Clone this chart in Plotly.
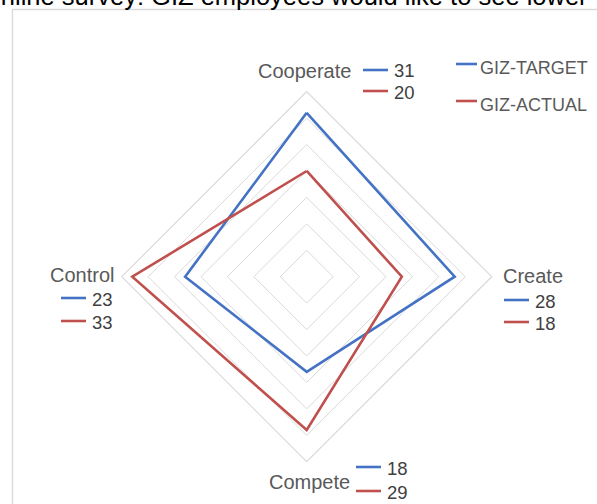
import plotly.graph_objects as go

# ---- data ----
categories = ["Cooperate", "Create", "Compete", "Control"]
target = [31, 28, 18, 23]
actual = [20, 18, 29, 33]
series_names = ["GIZ-TARGET", "GIZ-ACTUAL"]
title_text = "Online survey: GIZ employees would like to see lower"

# ---- styles / layout constants ----
W, H = 597, 504
BLUE = "#4472C4"
RED = "#C0504D"
GRID = "#D9D9D9"
FONT = "Liberation Sans"


def px(x):
    return x / W


def py(y):
    return 1 - y / H


# polar centre & radius in pixels
CX, CY, R = 306.7, 276.7, 185.0

fig = go.Figure()
for vals, name, col in [(target, series_names[0], BLUE), (actual, series_names[1], RED)]:
    fig.add_trace(go.Scatterpolar(
        r=vals + [vals[0]],
        theta=categories + [categories[0]],
        mode="lines",
        name=name,
        line=dict(color=col, width=2.6),
        showlegend=False,
    ))

fig.update_layout(
    width=W, height=H,
    margin=dict(l=0, r=0, t=0, b=0),
    paper_bgcolor="white",
    plot_bgcolor="white",
    font=dict(family=FONT),
    polar=dict(
        domain=dict(x=[px(CX - R), px(CX + R)], y=[py(CY + R), py(CY - R)]),
        bgcolor="white",
        gridshape="linear",
        radialaxis=dict(range=[0, 35], dtick=5, showticklabels=False, ticks="",
                        showline=False, gridcolor=GRID, gridwidth=1.2),
        angularaxis=dict(rotation=90, direction="clockwise", showticklabels=False,
                         ticks="", showgrid=False, showline=True,
                         linecolor=GRID, linewidth=1.2),
    ),
)

shapes = []
annotations = []

# chart border (partially visible)
shapes.append(dict(type="line", xref="paper", yref="paper",
                   x0=px(12.5), x1=px(12.5), y0=py(504), y1=py(9.5),
                   line=dict(color=GRID, width=1.3)))
shapes.append(dict(type="line", xref="paper", yref="paper",
                   x0=px(12.5), x1=px(597), y0=py(9.5), y1=py(9.5),
                   line=dict(color=GRID, width=1.3)))

# title (cut off at top, as in the source image)
annotations.append(dict(text=title_text, xref="paper", yref="paper",
                        x=px(-21), y=py(-4), xanchor="left", yanchor="middle",
                        showarrow=False, font=dict(size=25.5, color="black", family=FONT)))

# category labels with per-series value keys
label_pos = {
    "Cooperate": (353, 71, "right"),
    "Create": (501, 276, "left"),
    "Control": (48, 275, "left"),
    "Compete": (267, 482, "left"),
}
key_pos = {
    "Cooperate": (363, 70, 91),
    "Create": (504, 300, 322),
    "Control": (61, 298, 321),
    "Compete": (356, 467, 491),
}
for i, cat in enumerate(categories):
    lx, ly, anc = label_pos[cat]
    annotations.append(dict(text=cat, xref="paper", yref="paper", x=px(lx), y=py(ly),
                            xanchor=anc, yanchor="middle", showarrow=False,
                            font=dict(size=20, color="#595959", family=FONT)))
    kx, ky1, ky2 = key_pos[cat]
    for vals, col, ky in [(target, BLUE, ky1), (actual, RED, ky2)]:
        shapes.append(dict(type="line", xref="paper", yref="paper",
                           x0=px(kx), x1=px(kx + 25), y0=py(ky), y1=py(ky),
                           line=dict(color=col, width=2.6)))
        annotations.append(dict(text=str(vals[i]), xref="paper", yref="paper",
                                x=px(kx + 29), y=py(ky + 1), xanchor="left", yanchor="middle",
                                showarrow=False,
                                font=dict(size=18.5, color="#404040", family=FONT)))

# legend (manual)
for name, col, ly in [(series_names[0], BLUE, 64), (series_names[1], RED, 101)]:
    shapes.append(dict(type="line", xref="paper", yref="paper",
                       x0=px(456), x1=px(477), y0=py(ly), y1=py(ly),
                       line=dict(color=col, width=2.6)))
    annotations.append(dict(text=name, xref="paper", yref="paper", x=px(478), y=py(ly + 4),
                            xanchor="left", yanchor="middle", showarrow=False,
                            font=dict(size=18, color="#595959", family=FONT)))

fig.update_layout(shapes=shapes, annotations=annotations)
fig.write_html("out.html")
